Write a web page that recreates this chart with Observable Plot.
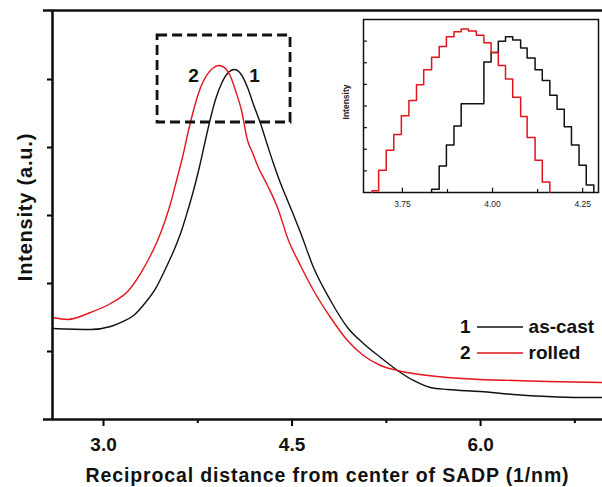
<!DOCTYPE html>
<html>
<head>
<meta charset="utf-8">
<script src="https://cdn.jsdelivr.net/npm/d3@7"></script>
<script src="https://cdn.jsdelivr.net/npm/@observablehq/plot@0.6"></script>
<style>
  html, body { margin: 0; padding: 0; background: #fff; }
  #wrap { position: relative; width: 602px; height: 487px; overflow: hidden; font-family: "Liberation Sans", Arial, sans-serif; }
  #inset { position: absolute; left: 340px; top: 0px; }
  #legend { position: absolute; left: 460px; top: 314px; font: bold 19px "Liberation Sans", Arial, sans-serif; color: #111; }
  #legend .row { display: flex; align-items: center; height: 26px; }
  #legend svg { margin: 0 6px 0 6px; }
</style>
</head>
<body>
<div id="wrap"></div>
<script>
// ---------- main chart data ----------
const xAsCast = [2.594,2.897,3.056,3.135,3.239,3.334,3.414,3.509,3.573,3.621,3.668,3.716,3.764,3.803,3.843,3.891,3.939,3.986,4.042,4.090,4.146,4.193,4.249,4.305,4.352,4.400,4.448,4.504,4.567,4.671,4.806,4.941,5.068,5.204,5.339,5.466,5.601,5.737,5.999,6.262,6.532,6.795,6.970];
const yAsCast = [1.338,1.324,1.368,1.426,1.529,1.721,1.926,2.279,2.544,2.779,3.059,3.368,3.721,4.044,4.368,4.706,4.941,5.088,5.147,5.088,4.882,4.632,4.353,4.029,3.765,3.515,3.294,3.044,2.750,2.235,1.750,1.353,1.118,0.912,0.721,0.574,0.471,0.441,0.412,0.368,0.338,0.324,0.324];
const xRolled = [2.594,2.714,2.897,3.056,3.199,3.294,3.374,3.430,3.485,3.533,3.581,3.628,3.676,3.724,3.772,3.819,3.867,3.915,3.963,4.010,4.050,4.098,4.146,4.185,4.225,4.305,4.384,4.472,4.567,4.671,4.806,4.941,5.068,5.204,5.339,5.466,5.737,5.999,6.262,6.532,6.970];
const yRolled = [1.500,1.471,1.574,1.706,1.897,2.147,2.412,2.632,2.897,3.176,3.515,3.853,4.250,4.600,4.882,5.059,5.162,5.206,5.176,5.044,4.838,4.544,4.103,3.926,3.735,3.441,3.118,2.632,2.265,1.897,1.500,1.162,0.941,0.794,0.721,0.676,0.618,0.588,0.574,0.559,0.544];

const xMajorTicks = [3.0, 4.5, 6.0];
const xMinorTicks = [3.75, 5.25, 6.75];
const yTicks = [1, 2, 3, 4, 5];
const peakLabels = [{x: 3.716, y: 5.06, text: "2"}, {x: 4.201, y: 5.06, text: "1"}];
const zoomBox = [{x1: 3.430, x2: 4.488, y1: 4.368, y2: 5.647}];
const legendItems = [{key: "1", name: "as-cast", color: "#111111"}, {key: "2", name: "rolled", color: "#e3141b"}];
const xTitle = "Reciprocal distance from center of SADP (1/nm)";
const yTitle = "Intensity (a.u.)";

// ---------- inset data (step histogram) ----------
const insetRedStarts = [3.666,3.684,3.705,3.726,3.747,3.768,3.789,3.809,3.831,3.852,3.872,3.893,3.913,3.933,3.955,3.976,3.996,4.016,4.036,4.056,4.078,4.096,4.118,4.138];
const insetRedCounts = [0.08,1.03,1.95,2.68,3.55,4.26,4.98,5.68,6.25,6.75,7.2,7.43,7.56,7.47,7.27,6.93,6.47,5.87,5.25,4.4,3.52,2.54,1.49,0.48];
const insetRedEnd = 4.159;
const insetBlackStarts = [3.831,3.852,3.872,3.893,3.913,3.933,3.955,3.976,3.996,4.016,4.036,4.056,4.078,4.096,4.118,4.138,4.159,4.179,4.199,4.219,4.240,4.260];
const insetBlackCounts = [0.15,1.22,2.2,3.08,4.1,4.1,4.1,6.03,6.47,7.0,7.2,7.05,6.68,6.22,5.68,5.18,4.5,3.85,3.04,2.2,1.26,0.35];
const insetBlackEnd = 4.281;
const insetXTicks = [3.75, 4.00, 4.25];
const insetXMinor = [3.875, 4.125];
const insetYTicks = [1, 2, 3, 4, 5, 6, 7];

const RED = "#e3141b", BLACK = "#111111";
const FONT = "Liberation Sans, Arial, sans-serif";

const asCast = xAsCast.map((x, i) => ({x, y: yAsCast[i]}));
const rolled = xRolled.map((x, i) => ({x, y: yRolled[i]}));

const xDom = [2.594, 6.97], yDom = [0, 6.015];

const main = Plot.plot({
  width: 602, height: 487,
  marginLeft: 52, marginRight: 0, marginTop: 10, marginBottom: 68,
  x: {domain: xDom, axis: null},
  y: {domain: yDom, axis: null},
  style: {fontFamily: FONT, background: "transparent", overflow: "visible"},
  marks: [
    Plot.line(asCast, {x: "x", y: "y", stroke: BLACK, strokeWidth: 1.4, curve: "monotone-x"}),
    Plot.line(rolled, {x: "x", y: "y", stroke: RED, strokeWidth: 1.4, curve: "monotone-x"}),
    Plot.rect(zoomBox, {x1: "x1", x2: "x2", y1: "y1", y2: "y2", fill: "none", stroke: BLACK, strokeWidth: 2.8, strokeDasharray: "10,5"}),
    Plot.text(peakLabels, {x: "x", y: "y", text: "text", fontSize: 19, fontWeight: "bold", fill: BLACK}),
    Plot.axisX(xMajorTicks, {tickSize: 7, strokeWidth: 2, tickPadding: 11, tickFormat: d3.format(".1f"), fontSize: 19, fontWeight: "bold", fill: BLACK, label: null}),
    Plot.axisX(xMinorTicks, {tickSize: 4, strokeWidth: 2, tickFormat: () => "", label: null}),
    Plot.axisY(yTicks, {tickSize: 5, strokeWidth: 2, tickFormat: () => "", label: null}),
    Plot.ruleY([yDom[0], yDom[1]], {x1: 2.522, x2: xDom[1], stroke: BLACK, strokeWidth: 2.6}),
    Plot.ruleX([xDom[0]], {y1: yDom[0], y2: yDom[1], stroke: BLACK, strokeWidth: 2.6}),
    Plot.text([xTitle], {frameAnchor: "bottom", dy: 62, fontSize: 19.5, fontWeight: "bold", fill: BLACK, className: "xtitle"}),
    Plot.text([yTitle], {frameAnchor: "left", textAnchor: "middle", dx: -27, dy: -8, rotate: -90, fontSize: 20, fontWeight: "bold", fill: BLACK, className: "ytitle"})
  ]
});
d3.select(main).selectAll(".xtitle text").attr("letter-spacing", "0.87px");
d3.select(main).selectAll(".ytitle text").attr("letter-spacing", "0.8px");

function steps(starts, counts, end) {
  const pts = [{x: starts[0], y: 0}];
  starts.forEach((x, i) => pts.push({x, y: counts[i]}));
  pts.push({x: end, y: 0});
  return pts;
}

const insetDom = [3.642, 4.294];
const inset = Plot.plot({
  width: 262, height: 215,
  marginLeft: 23, marginRight: 4, marginTop: 19, marginBottom: 23,
  x: {domain: insetDom, axis: null},
  y: {domain: [0, 8], axis: null},
  style: {fontFamily: FONT, background: "transparent", overflow: "visible"},
  marks: [
    Plot.frame({fill: "white", stroke: BLACK, strokeWidth: 1.5}),
    Plot.line(steps(insetBlackStarts, insetBlackCounts, insetBlackEnd), {x: "x", y: "y", curve: "step-after", stroke: BLACK, strokeWidth: 1.5}),
    Plot.line(steps(insetRedStarts, insetRedCounts, insetRedEnd), {x: "x", y: "y", curve: "step-after", stroke: RED, strokeWidth: 1.5}),
    Plot.ruleX(insetXTicks, {y1: 0, y2: 0.2, stroke: BLACK, strokeWidth: 1.2}),
    Plot.ruleX(insetXMinor, {y1: 0, y2: 0.14, stroke: BLACK, strokeWidth: 1.2}),
    Plot.ruleY(insetYTicks, {x1: insetDom[0], x2: insetDom[0] + 0.011, stroke: BLACK, strokeWidth: 1.2}),
    Plot.axisX(insetXTicks, {tickSize: 0, tickPadding: 8, tickFormat: d3.format(".2f"), fontSize: 8.5, fill: "#222", label: null}),
    Plot.text(["Intensity"], {frameAnchor: "left", textAnchor: "middle", dx: -17, dy: -4, rotate: -90, fontSize: 8.5, fontWeight: "bold", fill: "#222"})
  ]
});
inset.id = "inset";

const wrap = document.getElementById("wrap");
wrap.appendChild(main);
wrap.appendChild(inset);

// legend
const leg = document.createElement("div");
leg.id = "legend";
legendItems.forEach(d => {
  const row = document.createElement("div");
  row.className = "row";
  row.innerHTML = `<span>${d.key}</span><svg width="46" height="4"><line x1="0" x2="46" y1="2" y2="2" stroke="${d.color}" stroke-width="1.6"/></svg><span>${d.name}</span>`;
  leg.appendChild(row);
});
wrap.appendChild(leg);
</script>
</body>
</html>
